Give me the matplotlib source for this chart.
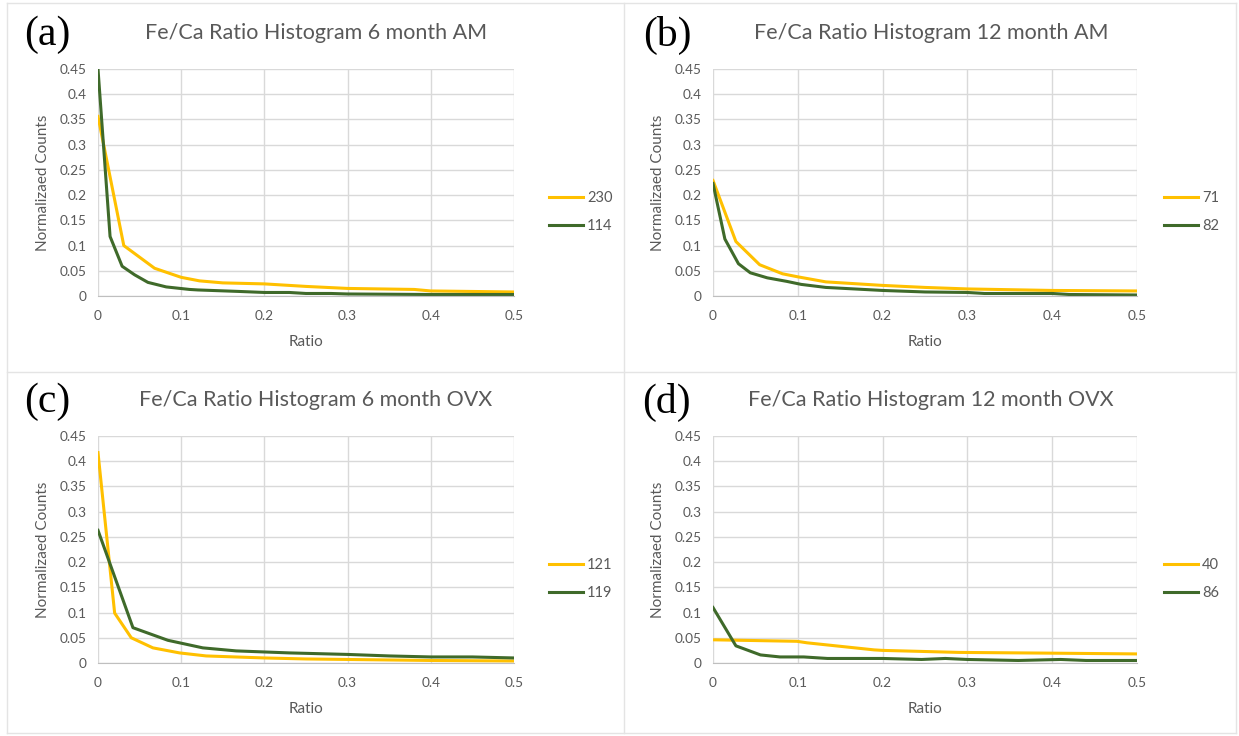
import matplotlib.pyplot as plt
from matplotlib.lines import Line2D

W, H = 1239, 736

YELLOW = "#FFC000"
GREEN = "#3f6a2a"
GRID = "#d9d9d9"
TXT = "#595959"

# panel (a) 6 month AM
a_yellow_x = [0, 0.031, 0.068, 0.1, 0.122, 0.15, 0.2, 0.25, 0.3, 0.38, 0.4, 0.45, 0.5]
a_yellow_y = [0.356, 0.100, 0.055, 0.037, 0.030, 0.026, 0.024, 0.019, 0.015, 0.013, 0.010, 0.009, 0.008]
a_green_x = [0, 0.0145, 0.029, 0.044, 0.06, 0.082, 0.11, 0.12, 0.17, 0.2, 0.23, 0.25, 0.28, 0.3, 0.4, 0.5]
a_green_y = [0.450, 0.118, 0.059, 0.042, 0.027, 0.018, 0.013, 0.012, 0.009, 0.007, 0.007, 0.005, 0.005, 0.004, 0.003, 0.003]

# panel (b) 12 month AM
b_yellow_x = [0, 0.027, 0.055, 0.082, 0.1, 0.133, 0.2, 0.25, 0.3, 0.4, 0.5]
b_yellow_y = [0.229, 0.108, 0.062, 0.044, 0.038, 0.028, 0.021, 0.017, 0.014, 0.011, 0.010]
b_green_x = [0, 0.014, 0.03, 0.044, 0.064, 0.087, 0.104, 0.133, 0.2, 0.25, 0.3, 0.32, 0.4, 0.42, 0.5]
b_green_y = [0.223, 0.113, 0.064, 0.046, 0.036, 0.029, 0.023, 0.017, 0.011, 0.008, 0.007, 0.005, 0.005, 0.003, 0.002]

# panel (c) 6 month OVX
c_yellow_x = [0, 0.02, 0.04, 0.066, 0.098, 0.13, 0.2, 0.25, 0.3, 0.4, 0.5]
c_yellow_y = [0.417, 0.099, 0.050, 0.030, 0.020, 0.014, 0.010, 0.008, 0.007, 0.005, 0.004]
c_green_x = [0, 0.042, 0.084, 0.126, 0.166, 0.23, 0.3, 0.35, 0.4, 0.45, 0.5]
c_green_y = [0.263, 0.070, 0.045, 0.030, 0.024, 0.020, 0.017, 0.014, 0.012, 0.012, 0.010]

# panel (d) 12 month OVX
d_yellow_x = [0, 0.099, 0.111, 0.19, 0.2, 0.29, 0.4, 0.5]
d_yellow_y = [0.046, 0.043, 0.040, 0.026, 0.025, 0.021, 0.0195, 0.018]
d_green_x = [0, 0.027, 0.056, 0.079, 0.107, 0.135, 0.2, 0.246, 0.274, 0.3, 0.33, 0.36, 0.41, 0.44, 0.5]
d_green_y = [0.110, 0.034, 0.016, 0.012, 0.012, 0.009, 0.009, 0.007, 0.009, 0.007, 0.006, 0.005, 0.007, 0.005, 0.005]

panels = [
    ("(a)", "Fe/Ca Ratio Histogram 6 month AM", ["230", "114"],
     (a_yellow_x, a_yellow_y), (a_green_x, a_green_y)),
    ("(b)", "Fe/Ca Ratio Histogram 12 month AM", ["71", "82"],
     (b_yellow_x, b_yellow_y), (b_green_x, b_green_y)),
    ("(c)", "Fe/Ca Ratio Histogram 6 month OVX", ["121", "119"],
     (c_yellow_x, c_yellow_y), (c_green_x, c_green_y)),
    ("(d)", "Fe/Ca Ratio Histogram 12 month OVX", ["40", "86"],
     (d_yellow_x, d_yellow_y), (d_green_x, d_green_y)),
]

# pixel boxes of the plot areas: left, right, top, bottom
boxes = [(98, 514, 69, 296), (713, 1137, 69, 296),
         (98, 514, 436, 663), (713, 1137, 436, 663)]
col_off = [0, 615, 0, 615]
row_off = [0, 0, 367, 367]

plt.rcParams["font.family"] = ["Lato", "DejaVu Sans"]

fig = plt.figure(figsize=(W / 100, H / 100), dpi=100)


def fx(px):
    return px / W


def fy(py):
    return 1 - py / H


# panel frames
for x in [7, 624, 1236]:
    fig.add_artist(Line2D([fx(x), fx(x)], [fy(3), fy(733)], color="#e4e4e4", lw=1))
for y in [3, 372, 733]:
    fig.add_artist(Line2D([fx(7), fx(1236)], [fy(y), fy(y)], color="#e4e4e4", lw=1))

for i, (tag, title, labels, yel, grn) in enumerate(panels):
    l, r, t, b = boxes[i]
    ax = fig.add_axes([fx(l), fy(b), (r - l) / W, (b - t) / H])
    ax.plot(yel[0], yel[1], color=YELLOW, lw=2.2, label=labels[0], solid_joinstyle="round")
    ax.plot(grn[0], grn[1], color=GREEN, lw=2.2, label=labels[1], solid_joinstyle="round")
    ax.set_xlim(0, 0.5)
    ax.set_ylim(0, 0.45)
    ax.set_xticks([0, 0.1, 0.2, 0.3, 0.4, 0.5])
    ax.set_xticklabels(["0", "0.1", "0.2", "0.3", "0.4", "0.5"])
    ax.set_yticks([0, 0.05, 0.1, 0.15, 0.2, 0.25, 0.3, 0.35, 0.4, 0.45])
    ax.set_yticklabels(["0", "0.05", "0.1", "0.15", "0.2", "0.25", "0.3", "0.35", "0.4", "0.45"])
    ax.tick_params(length=0, labelsize=9.8, labelcolor=TXT)
    ax.tick_params(axis="x", pad=10)
    ax.tick_params(axis="y", pad=8)
    ax.grid(True, color=GRID, lw=1)
    ax.set_axisbelow(True)
    for s in ["top", "right", "left"]:
        ax.spines[s].set_visible(False)
    ax.spines["bottom"].set_color("#bfbfbf")

    ox, oy = col_off[i], row_off[i]
    fig.text(fx(316 + ox), fy(33 + oy), title, ha="center", va="center",
             fontsize=15.5, color=TXT)
    fig.text(fx(47 + ox * 1.008), fy(35 + oy), tag, ha="center", va="center",
             fontsize=30, family="Liberation Serif", color="black")
    fig.text(fx(43 + ox * 1.0), fy(183 + oy), "Normalizaed Counts", ha="center", va="center",
             rotation=90, fontsize=11, color=TXT)
    fig.text(fx((l + r) / 2), fy(342 + oy), "Ratio", ha="center", va="center",
             fontsize=11, color=TXT)

    leg = ax.legend(loc="center left", bbox_to_anchor=(fx(549 + ox), fy(212 + oy)),
                    bbox_transform=fig.transFigure, frameon=False, fontsize=10.5,
                    handlelength=2.3, handletextpad=0.3, labelspacing=1.0,
                    borderpad=0, borderaxespad=0)
    for txt in leg.get_texts():
        txt.set_color(TXT)

fig.savefig("out.png", dpi=100)
